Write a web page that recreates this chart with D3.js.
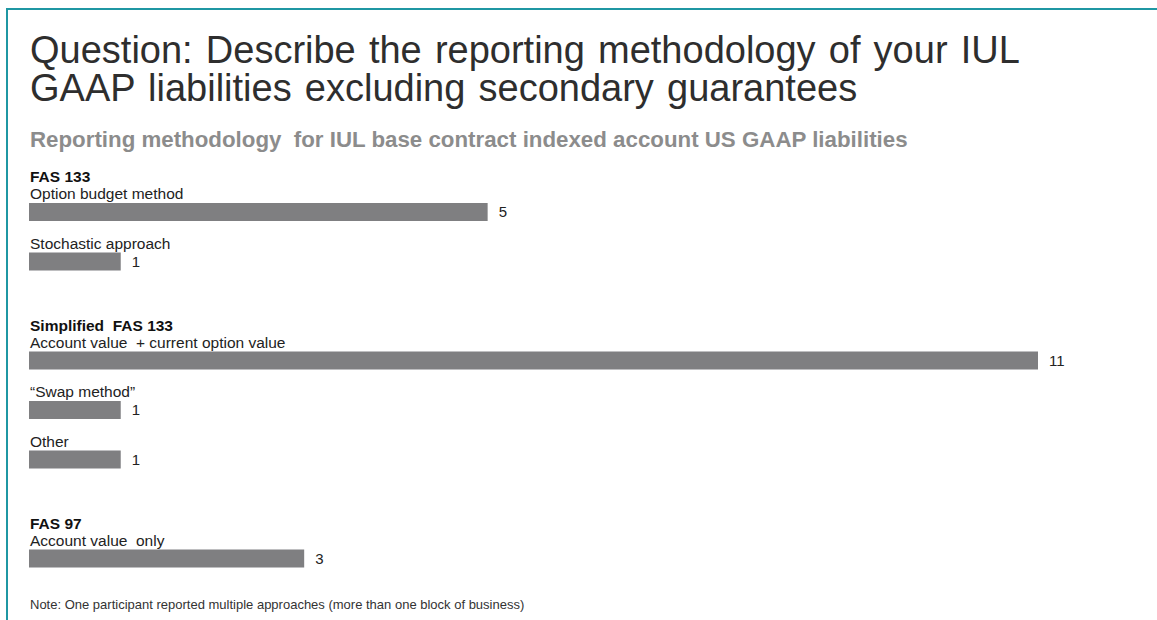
<!DOCTYPE html>
<html>
<head>
<meta charset="utf-8">
<script src="https://cdn.jsdelivr.net/npm/d3@7"></script>
<style>
  body { margin: 0; background: #fff; }
  svg { display: block; font-family: "Liberation Sans", Arial, sans-serif; }
</style>
</head>
<body>
<svg></svg>
<script>
const width = 1157,
  height = 620;

// Data: groups, their methods and the number of participants
const groups = ["FAS 133", "Simplified  FAS 133", "FAS 97"];
const methods = [
  ["Option budget method", "Stochastic approach"],
  ["Account value  + current option value", "\u201cSwap method\u201d", "Other"],
  ["Account value  only"]
];
const counts = [
  [5, 1],
  [11, 1, 1],
  [3]
];

const titleLines = [
  "Question: Describe the reporting methodology of your IUL",
  "GAAP liabilities excluding secondary guarantees"
];
const subtitle = "Reporting methodology  for IUL base contract indexed account US GAAP liabilities";
const note = "Note: One participant reported multiple approaches (more than one block of business)";

// Flatten into rows, one empty slot between groups
const rows = [];
let slot = 0;
groups.forEach((g, gi) => {
  methods[gi].forEach((m, mi) => {
    rows.push({ group: g, first: mi === 0, label: m, value: counts[gi][mi], slot: slot });
    slot++;
  });
  slot++;
});

const svg = d3.select("svg")
  .attr("width", width)
  .attr("height", height);

// teal frame
svg.append("path")
  .attr("d", "M7,620 V9 H1157")
  .attr("fill", "none")
  .attr("stroke", "#1f97a3")
  .attr("stroke-width", 2);

// title
svg.append("g")
  .selectAll("text")
  .data(titleLines)
  .enter()
  .append("text")
  .attr("x", 30)
  .attr("y", (d, i) => 63 + i * 38)
  .attr("font-size", 38)
  .attr("word-spacing", 2.6)
  .attr("fill", "#2e2e2e")
  .style("white-space", "pre")
  .text(d => d);

svg.append("text")
  .attr("x", 30)
  .attr("y", 147)
  .attr("font-size", 22.3)
  .attr("font-weight", "bold")
  .attr("fill", "#8c8c8c")
  .style("white-space", "pre")
  .text(subtitle);

const x = d3.scaleLinear()
  .domain([0, 11])
  .range([29, 1038]);

const y = d3.scaleLinear()
  .domain([0, 1])
  .range([203, 252.5]);

const barH = 18;

const row = svg.append("g")
  .selectAll("g.row")
  .data(rows)
  .enter()
  .append("g")
  .attr("class", "row")
  .attr("transform", d => "translate(0," + y(d.slot) + ")");

row.filter(d => d.first)
  .append("text")
  .attr("x", 30)
  .attr("y", -21)
  .attr("font-size", 15.5)
  .attr("font-weight", "bold")
  .attr("fill", "#111")
  .style("white-space", "pre")
  .text(d => d.group);

row.append("text")
  .attr("x", 30)
  .attr("y", -4)
  .attr("font-size", 15.5)
  .attr("fill", "#222")
  .style("white-space", "pre")
  .text(d => d.label);

row.append("rect")
  .attr("x", x(0))
  .attr("y", 0)
  .attr("width", d => x(d.value) - x(0))
  .attr("height", barH)
  .attr("fill", "#7f7f81");

row.append("text")
  .attr("x", d => x(d.value) + 11)
  .attr("y", barH / 2)
  .attr("dy", "0.36em")
  .attr("font-size", 15)
  .attr("fill", "#222")
  .text(d => d.value);

svg.append("text")
  .attr("x", 30)
  .attr("y", 609)
  .attr("font-size", 13)
  .attr("fill", "#333")
  .text(note);
</script>
</body>
</html>
